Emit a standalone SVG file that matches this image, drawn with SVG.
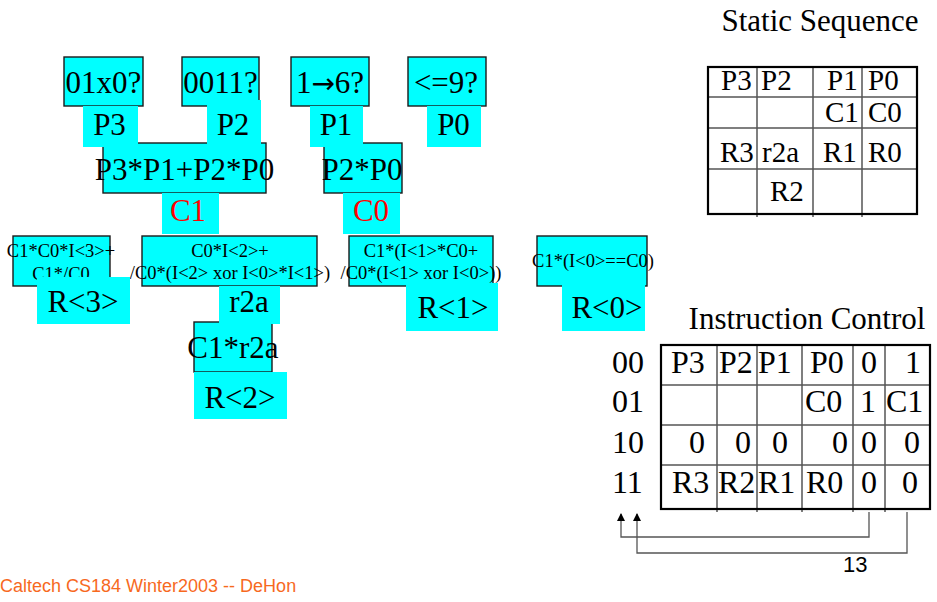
<svg xmlns="http://www.w3.org/2000/svg" width="937" height="602" viewBox="0 0 937 602">
  <style>
    .box { fill: #00FFFF; stroke: #1a1a1a; stroke-width: 1.4; }
    .tag { fill: #00FFFF; stroke: none; }
    .t { font-family: "Liberation Serif", "Times New Roman", serif; font-size: 31px; fill: #000; text-anchor: middle; }
    .s { font-family: "Liberation Serif", "Times New Roman", serif; font-size: 18.5px; fill: #000; text-anchor: middle; }
    .arrow { font-family: "DejaVu Sans", sans-serif; font-size: 28px; }
    .red { fill: #FF0000; }
    .cell { font-family: "Liberation Serif", "Times New Roman", serif; font-size: 32px; fill: #000; }
    .cell1 { font-family: "Liberation Serif", "Times New Roman", serif; font-size: 29px; fill: #000; }
    .title { font-family: "Liberation Serif", "Times New Roman", serif; font-size: 31px; fill: #000; text-anchor: middle; }
    .grid { stroke: #555; stroke-width: 1.5; fill: none; }
    .frame { stroke: #000; stroke-width: 2.2; fill: none; }
    .wire { stroke: #555; stroke-width: 1.3; fill: none; }
    .foot { font-family: "Liberation Sans", Arial, sans-serif; font-size: 18px; fill: #F7691E; }
    .num { font-family: "Liberation Sans", Arial, sans-serif; font-size: 22px; fill: #000; }
  </style>
  <defs>
    <marker id="tip" markerWidth="8" markerHeight="8" refX="7" refY="4" orient="auto" markerUnits="userSpaceOnUse">
      <path d="M0,0 L8,4 L0,8 z" fill="#000"/>
    </marker>
  </defs>

  <!-- logic boxes (drawn first so label tiles sit on top) -->
  <g id="b-01x0"><rect class="box" x="64" y="57" width="79" height="49"/><text class="t" x="103.5" y="93">01x0?</text></g>
  <g id="b-0011"><rect class="box" x="182" y="57" width="77" height="49"/><text class="t" x="220.5" y="93">0011?</text></g>
  <g id="b-1to6"><rect class="box" x="291" y="57" width="78" height="49"/><text class="t" x="330" y="93">1<tspan class="arrow">→</tspan>6?</text></g>
  <g id="b-le9"><rect class="box" x="408" y="57" width="78" height="49"/><text class="t" x="446" y="93">&lt;=9?</text></g>
  <g id="b-c1expr"><rect class="box" x="103" y="143" width="163" height="50"/><text class="t" x="184.5" y="180">P3*P1+P2*P0</text></g>
  <g id="b-c0expr"><rect class="box" x="324" y="143" width="78" height="50"/><text class="t" x="362" y="180">P2*P0</text></g>
  <g id="b-r3expr"><rect class="box" x="13" y="236" width="97" height="50"/><text class="s" x="61" y="257">C1*C0*I&lt;3&gt;+</text><text class="s" x="61" y="280">C1*/C0</text></g>
  <g id="b-r2aexpr"><rect class="box" x="142" y="236" width="175" height="50"/><text class="s" x="230" y="257">C0*I&lt;2&gt;+</text><text class="s" x="230" y="279">/C0*(I&lt;2&gt; xor I&lt;0&gt;*I&lt;1&gt;)</text></g>
  <g id="b-r1expr"><rect class="box" x="349" y="236" width="144" height="50"/><text class="s" x="421" y="257">C1*(I&lt;1&gt;*C0+</text><text class="s" x="421" y="279">/C0*(I&lt;1&gt; xor I&lt;0&gt;))</text></g>
  <g id="b-r0expr"><rect class="box" x="537" y="236" width="110" height="50"/><text class="s" x="593" y="267">C1*(I&lt;0&gt;==C0)</text></g>
  <g id="b-r2expr"><rect class="box" x="194" y="322" width="78" height="50"/><text class="t" x="233" y="358">C1*r2a</text></g>

  <!-- output label tiles -->
  <g id="l-P3"><rect class="tag" x="83" y="106" width="55" height="41"/><text class="t" x="109.5" y="135">P3</text></g>
  <g id="l-P2"><rect class="tag" x="207" y="100" width="54" height="47"/><text class="t" x="233" y="135">P2</text></g>
  <g id="l-P1"><rect class="tag" x="310" y="106" width="53" height="41"/><text class="t" x="336" y="135">P1</text></g>
  <g id="l-P0"><rect class="tag" x="427" y="106" width="54" height="41"/><text class="t" x="453.5" y="135">P0</text></g>
  <g id="l-C1"><rect class="tag" x="162" y="193" width="57" height="41"/><text class="t red" x="188" y="221">C1</text></g>
  <g id="l-C0"><rect class="tag" x="343" y="193" width="57" height="41"/><text class="t red" x="371" y="221">C0</text></g>
  <g id="l-R3"><rect class="tag" x="37" y="277" width="93" height="47"/><text class="t" x="83" y="312">R&lt;3&gt;</text></g>
  <g id="l-r2a"><rect class="tag" x="219" y="286" width="61" height="38"/><text class="t" x="249" y="312">r2a</text></g>
  <g id="l-R1"><rect class="tag" x="406" y="283" width="92" height="48"/><text class="t" x="453" y="318">R&lt;1&gt;</text></g>
  <g id="l-R0"><rect class="tag" x="562" y="283" width="83" height="48"/><text class="t" x="607" y="318">R&lt;0&gt;</text></g>
  <g id="l-R2"><rect class="tag" x="194" y="372" width="93" height="47"/><text class="t" x="240" y="408">R&lt;2&gt;</text></g>

  <!-- Static Sequence table -->
  <g id="static-seq">
    <text class="title" x="820" y="31">Static Sequence</text>
    <path class="grid" d="M757,67 V217 M813,67 V217 M862,67 V217 M708,97 H917 M708,128 H917 M708,169 H917"/>
    <rect class="frame" x="708" y="67" width="209" height="147"/>
    <g class="cell1">
      <text x="721" y="90">P3</text><text x="761" y="90">P2</text><text x="827" y="90">P1</text><text x="868" y="90">P0</text>
      <text x="825" y="122">C1</text><text x="868" y="122">C0</text>
      <text x="720" y="162">R3</text><text x="762" y="162">r2a</text><text x="823" y="162">R1</text><text x="868" y="162">R0</text>
      <text x="770" y="201">R2</text>
    </g>
  </g>

  <!-- Instruction Control table -->
  <g id="instr-ctl">
    <text class="title" x="807" y="329">Instruction Control</text>
    <path class="grid" d="M717,345 V512 M757,345 V512 M802,345 V512 M853,345 V512 M885,345 V512 M661,385 H930 M661,425 H930 M661,465 H930"/>
    <rect class="frame" x="661" y="345" width="269" height="164"/>
    <g class="cell">
      <text x="612" y="373">00</text><text x="612" y="412">01</text><text x="612" y="453">10</text><text x="612" y="493">11</text>
      <text x="671" y="373">P3</text><text x="719" y="373">P2</text><text x="758" y="373">P1</text><text x="810" y="373">P0</text><text x="861" y="373">0</text><text x="905" y="373">1</text>
      <text x="805" y="412">C0</text><text x="860" y="412">1</text><text x="886" y="412">C1</text>
      <text x="689" y="453">0</text><text x="735" y="453">0</text><text x="772" y="453">0</text><text x="832" y="453">0</text><text x="861" y="453">0</text><text x="904" y="453">0</text>
      <text x="672" y="493">R3</text><text x="718" y="493">R2</text><text x="758" y="493">R1</text><text x="806" y="493">R0</text><text x="861" y="493">0</text><text x="902" y="493">0</text>
    </g>
  </g>

  <!-- feedback of the last two columns into the row select -->
  <g id="connectors">
    <path class="wire" d="M869,512 V537 H621 V514" marker-end="url(#tip)"/>
    <path class="wire" d="M907,512 V553 H637 V514" marker-end="url(#tip)"/>
  </g>
  <text class="num" x="843" y="572">13</text>

  <text class="foot" x="0" y="592">Caltech CS184 Winter2003 -- DeHon</text>
</svg>
